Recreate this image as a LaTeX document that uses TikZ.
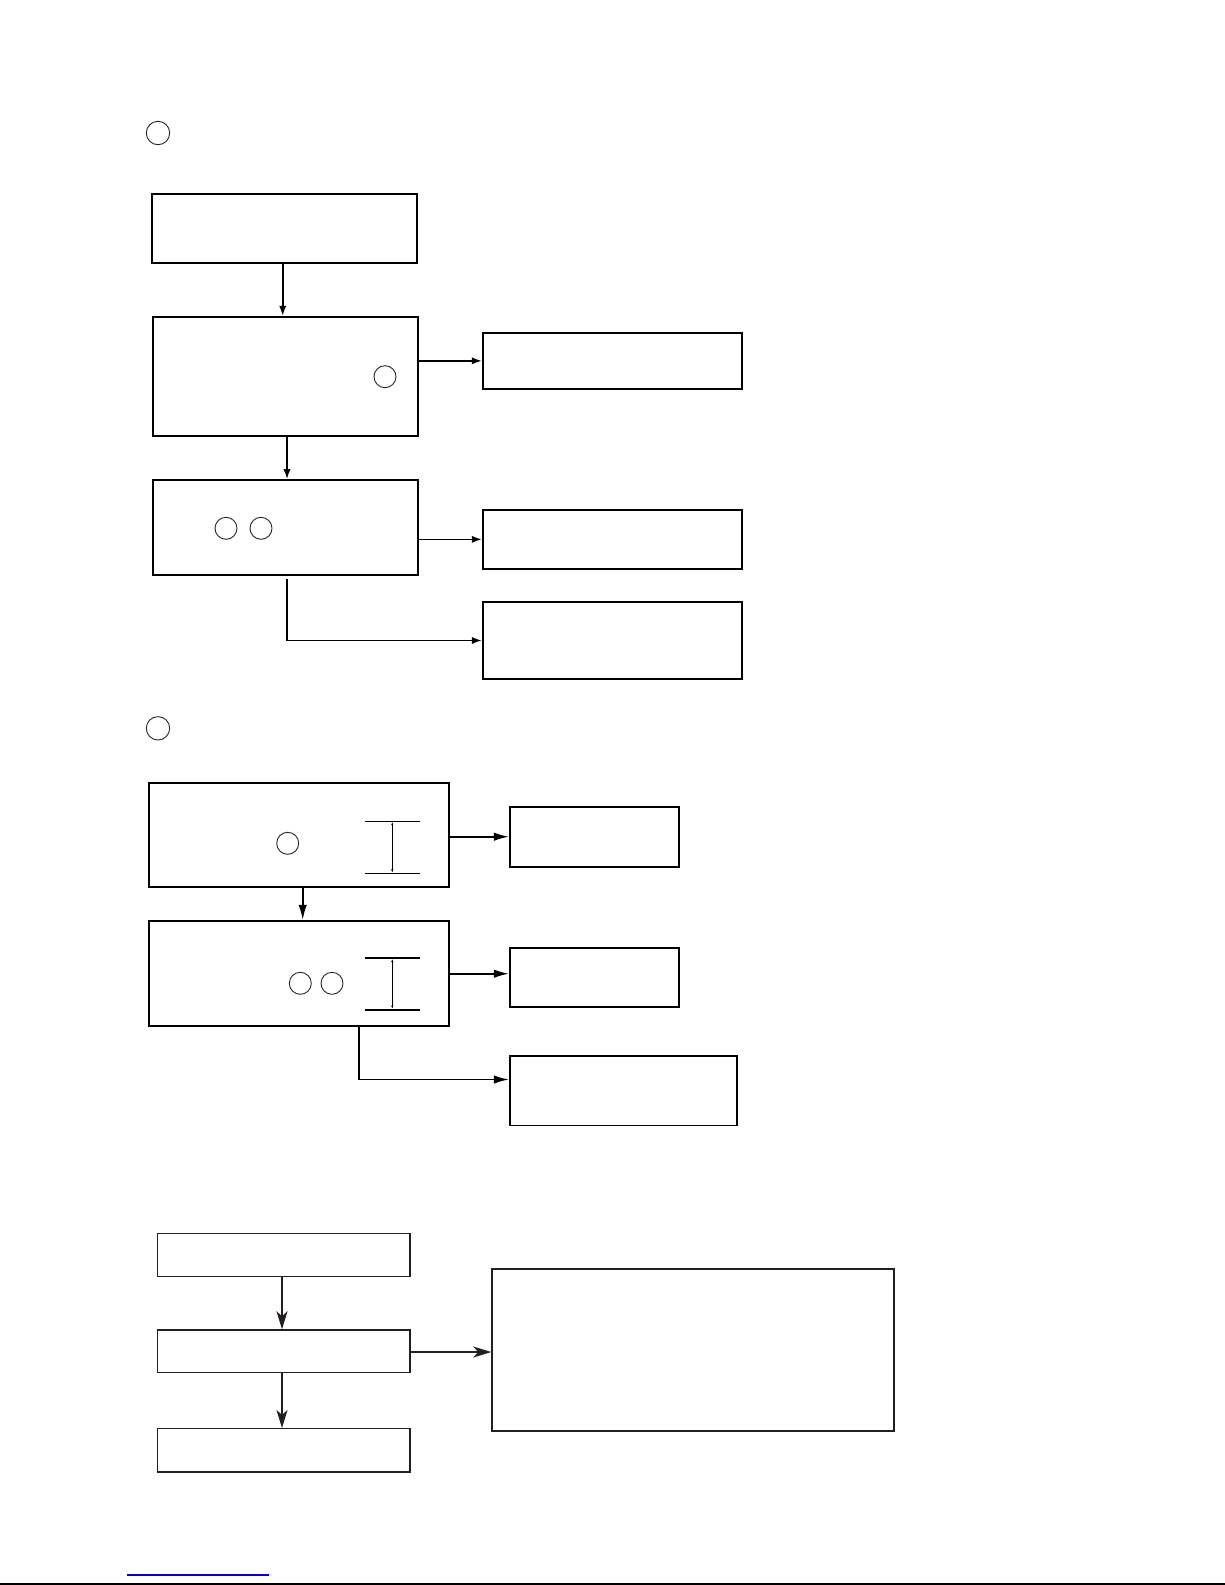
\documentclass[tikz,border=0pt]{standalone}
\usetikzlibrary{arrows.meta,fit,calc}
\definecolor{inkgray}{HTML}{231F20}
\definecolor{linkblue}{RGB}{0,0,200}
\tikzset{
  box/.style={draw=black, line width=0.85pt, inner sep=0pt, rectangle},
  boxc/.style={draw=inkgray, line width=0.75pt, inner sep=0pt, rectangle},
  numcirc/.style={circle, draw=black!85, line width=0.45pt, inner sep=0pt, minimum size=11pt},
  arra/.style={line width=0.8pt, -{Latex[length=5pt,width=3.6pt]}},
  arrb/.style={line width=0.8pt, -{Latex[length=7.5pt,width=4.2pt]}},
  arrc/.style={draw=inkgray, line width=0.75pt, -{Stealth[length=9pt,width=5.5pt,inset=2.5pt]}},
  dimthin/.style={line width=0.45pt},
  dimthick/.style={line width=0.9pt},
  dimarr/.style={line width=0.4pt, {Latex[length=1.6pt,width=1.2pt]}-{Latex[length=1.6pt,width=1.2pt]}}
}
\begin{document}
\begin{tikzpicture}[x=0.5pt,y=-0.5pt]
\useasboundingbox (0,0) rectangle (1225,1585);
\fill[white] (0,0) rectangle (1225,1585);

% ---------- Section 1 ----------
\node[numcirc, minimum size=11.7pt] (lab1) at (158,133) {};
\node[box, fit={(151.7,194) (417,263)}] (b1) {};
\node[box, fit={(152.7,316.7) (418,435.7)}] (b2) {};
\node[numcirc] (c2a) at (385,376.7) {};
\node[box, fit={(482.7,332.7) (742.3,389)}] (r1) {};
\node[box, fit={(152.7,480) (418,575)}] (b3) {};
\node[numcirc] (c3a) at (226,528.3) {};
\node[numcirc] (c3b) at (261,528.3) {};
\node[box, fit={(482.7,510) (742.3,568.7)}] (r2) {};
\node[box, fit={(482.7,602) (742.3,679)}] (r3) {};
\coordinate (l1) at (287,579);

\draw[arra] (b1.south -| 282.7,0) -- (b2.north -| 282.7,0);
\draw[arra] (b2.east |- r1.west) -- (r1.west);
\draw[arra] (b2.south -| l1) -- (b3.north -| l1);
\draw[arra] (b3.east |- r2.west) -- (r2.west);
\draw[arra] (l1) |- (r3.west);

% ---------- Section 2 ----------
\node[numcirc, minimum size=11.7pt] (lab2) at (158,728.3) {};
\node[box, fit={(149,783) (449,887.3)}] (b4) {};
\node[numcirc] (c4a) at (287.7,843.3) {};
\node[box, fit={(509.8,806.7) (679,866.7)}] (r4) {};
\node[box, fit={(149,920.7) (449,1025.7)}] (b5) {};
\node[numcirc] (c5a) at (300.3,983.3) {};
\node[numcirc] (c5b) at (332,983.3) {};
\node[box, fit={(509.8,947.7) (679,1006.7)}] (r5) {};
\node[box, fit={(509.8,1056) (737,1125.5)}] (r6) {};
\coordinate (l2) at (359,1025.7);
\coordinate (l2b) at (359,1079.5);
\coordinate (v4) at (302.7,887.3);

% dimension marks
\coordinate (d1a) at (364.7,821.3); \coordinate (d1b) at (420.3,821.3);
\coordinate (d1c) at (364.7,873.3); \coordinate (d1d) at (420.3,873.3);
\draw[dimthin] (d1a) -- (d1b);
\draw[dimthin] (d1c) -- (d1d);
\draw[dimarr] (392.3,822) -- (392.3,872.6);
\coordinate (d2a) at (364.7,958); \coordinate (d2b) at (420.3,958);
\coordinate (d2c) at (364.7,1009.7); \coordinate (d2d) at (420.3,1009.7);
\draw[dimthick] (d2a) -- (d2b);
\draw[dimthick] (d2c) -- (d2d);
\draw[dimarr] (392.3,959) -- (392.3,1008.7);

\draw[arrb] (b4.east |- r4.west) -- (r4.west);
\draw[arrb] (v4) -- (b5.north -| v4);
\draw[arrb] (b5.east |- 0,973.7) -- (r5.west |- 0,973.7);
\draw[arrb] (l2) -- (l2b) -- (r6.west |- l2b);

% ---------- Section 3 ----------
\node[boxc, fit={(157.7,1233.7) (410,1276.7)}] (b6) {};
\node[boxc, fit={(157.7,1330) (410,1372.7)}] (b7) {};
\node[boxc, fit={(157.7,1428.7) (410,1472)}] (b8) {};
\node[boxc, fit={(492,1269) (894,1431)}] (big) {};
\coordinate (v6) at (282,0);

\draw[arrc] (b6.south -| v6) -- (b7.north -| v6);
\draw[arrc] (b7.south -| v6) -- (b8.north -| v6);
\draw[arrc] (b7.east |- 0,1352) -- (big.west |- 0,1352);

% ---------- page foot ----------
\coordinate (f1) at (127,1575); \coordinate (f2) at (269,1575);
\coordinate (g1) at (0,1583.7); \coordinate (g2) at (1225,1583.7);
\draw[linkblue, line width=0.8pt] (f1) -- (f2);
\draw[black, line width=1.1pt] (g1) -- (g2);
\end{tikzpicture}
\end{document}
